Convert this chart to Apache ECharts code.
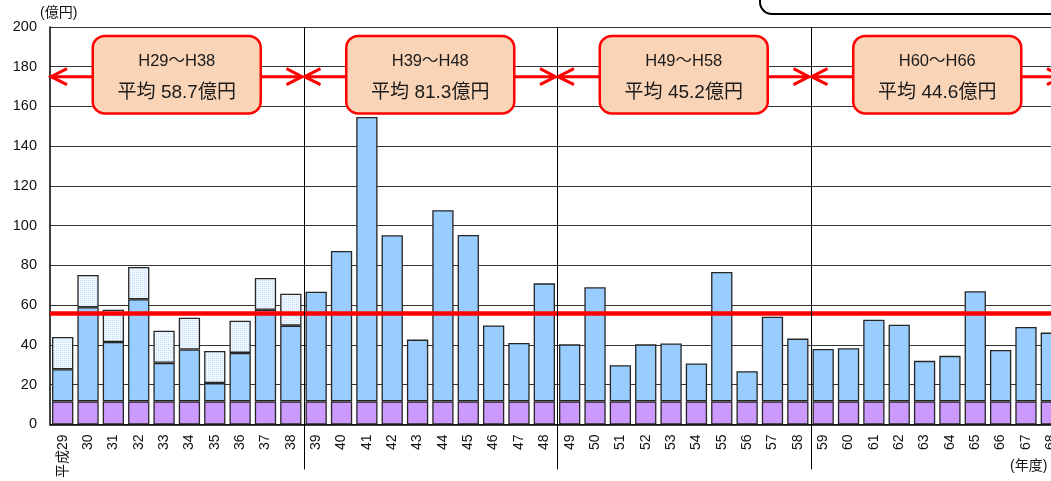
<!DOCTYPE html>
<html>
<head>
<meta charset="utf-8">
<script src="https://cdn.jsdelivr.net/npm/echarts@6/dist/echarts.min.js"></script>
<style>
html,body{margin:0;padding:0;background:#fff;overflow:hidden;width:1051px;height:481px;}
#chart{width:1064px;height:481px;}
</style>
</head>
<body>
<div id="chart"></div>
<script>
// ---- data ----
const categories = ['平成29','30','31','32','33','34','35','36','37','38',
  '39','40','41','42','43','44','45','46','47','48',
  '49','50','51','52','53','54','55','56','57','58',
  '59','60','61','62','63','64','65','66','67','68'];
const baseValues = [11.6,11.6,11.6,11.6,11.6,11.6,11.6,11.6,11.6,11.6,
  11.6,11.6,11.6,11.6,11.6,11.6,11.6,11.6,11.6,11.6,
  11.6,11.6,11.6,11.6,11.6,11.6,11.6,11.6,11.6,11.6,
  11.6,11.6,11.6,11.6,11.6,11.6,11.6,11.6,11.6,11.6];
const blueTops = [27.8,59,41.5,63,31,37.7,20.8,36,57.7,49.7,
  66.8,87.3,154.7,95.2,42.7,107.8,95.3,49.8,41,71,
  40.3,69,29.8,40.3,40.7,30.7,76.7,26.8,54.2,43.2,
  38,38.3,52.7,50.2,32,34.5,67,37.5,49,46.2];
const hatchedValues = [16.2,16.2,16.2,16.2,16.2,16,16.2,16.2,16,16.1,
  null,null,null,null,null,null,null,null,null,null,
  null,null,null,null,null,null,null,null,null,null,
  null,null,null,null,null,null,null,null,null,null];
const periodLabels = ['H29～H38','H39～H48','H49～H58','H60～H66'];
const periodAverages = ['58.7','81.3','45.2','44.6'];
const periodStart = ['平成29','39','49','59'];
const periodEnd = ['38','48','58','68'];
const overallAverage = 56;
const yTicks = {min:0, max:200, interval:20};

// ---- build ----
const blueValues = blueTops.map((v,i)=> +(v - baseValues[i]).toFixed(2));
const pat = document.createElement('canvas');
pat.width = 4; pat.height = 4;
const pc = pat.getContext('2d');
pc.fillStyle = '#F0F7FF'; pc.fillRect(0,0,4,4);
pc.fillStyle = '#B4D8FB';
pc.fillRect(0,0,1,1); pc.fillRect(2,2,1,1);
pc.fillStyle = '#D2E8FD';
pc.fillRect(2,0,1,1); pc.fillRect(0,2,1,1);

const FONT = "'Liberation Sans', Arial, 'Noto Sans CJK JP', sans-serif";
const border = {borderColor:'#262626', borderWidth:1.3};

const periodData = periodLabels.map((l,k)=>[categories.indexOf(periodStart[k]), categories.indexOf(periodEnd[k]), k]);

function renderPeriod(params, api){
  const s = api.value(0), e = api.value(1), k = api.value(2);
  const bw = api.size([1,0])[0];
  const pS = api.coord([s,175]), pE = api.coord([e,175]);
  const x0 = pS[0]-bw/2, x1 = pE[0]+bw/2, y = pS[1];
  const top = api.coord([s,195.5])[1], bot = api.coord([s,156.5])[1];
  const zeroY = api.coord([s,0])[1], maxY = api.coord([s,200])[1];
  const cx = (x0+x1)/2, boxW = 168;
  const red = '#FF0000';
  const ch = [];
  if (k < periodLabels.length-1) {
    ch.push({type:'line', shape:{x1:Math.round(x1)+0.5,y1:maxY,x2:Math.round(x1)+0.5,y2:zeroY+45}, style:{stroke:'#000',lineWidth:1}});
  }
  ch.push({type:'line', shape:{x1:x0+1,y1:y,x2:x1-1,y2:y}, style:{stroke:red,lineWidth:3}});
  ch.push({type:'polyline', shape:{points:[[x0+17,y-8],[x0+1,y],[x0+17,y+8]]}, style:{stroke:red,lineWidth:3,fill:null}});
  ch.push({type:'polyline', shape:{points:[[x1-17,y-8],[x1-1.5,y],[x1-17,y+8]]}, style:{stroke:red,lineWidth:3,fill:null}});
  ch.push({type:'rect', shape:{x:cx-boxW/2,y:top,width:boxW,height:bot-top,r:12}, style:{fill:'#FAD4B6',stroke:red,lineWidth:2.5}});
  ch.push({type:'text', style:{text:periodLabels[k], x:cx, y:top+26, align:'center', verticalAlign:'middle', fontSize:16.5, fontFamily:FONT, fill:'#1a1a1a'}});
  ch.push({type:'text', style:{text:'平均 '+periodAverages[k]+'億円', x:cx, y:top+57, align:'center', verticalAlign:'middle', fontSize:19, fontFamily:FONT, fill:'#1a1a1a'}});
  return {type:'group', children:ch};
}

const chart = echarts.init(document.getElementById('chart'));
chart.setOption({
  animation:false,
  textStyle:{fontFamily:FONT},
  grid:{left:50, right:0, top:27, bottom:55},
  xAxis:{
    type:'category', data:categories,
    axisLine:{show:true, lineStyle:{color:'#000', width:1.5}},
    axisTick:{show:false},
    axisLabel:{rotate:90, fontSize:14, color:'#111', margin:10, interval:0}
  },
  yAxis:{
    type:'value', min:yTicks.min, max:yTicks.max, interval:yTicks.interval,
    name:'(億円)', nameLocation:'end', nameGap:5,
    nameTextStyle:{fontSize:14, color:'#111', align:'left', padding:[0,0,0,-10]},
    axisLine:{show:true, lineStyle:{color:'#000', width:1.5}},
    axisTick:{show:false},
    axisLabel:{fontSize:14.5, color:'#111', margin:13},
    splitLine:{show:true, lineStyle:{color:'#333', width:1}}
  },
  series:[
    {type:'bar', stack:'t', data:baseValues, barCategoryGap:'16%',
      itemStyle:Object.assign({color:'#CC99FF'}, border)},
    {type:'bar', stack:'t', data:blueValues,
      itemStyle:Object.assign({color:'#99CCFF'}, border)},
    {type:'bar', stack:'t', data:hatchedValues,
      itemStyle:Object.assign({color:{image:pat, repeat:'repeat'}}, border),
      markLine:{silent:true, symbol:'none', label:{show:false},
        lineStyle:{color:'#FF0000', width:4.5, type:'solid'},
        data:[{yAxis:overallAverage}]}},
    {type:'custom', data:periodData, renderItem:renderPeriod, clip:false, z:10, silent:true,
      encode:{x:0, y:2}}
  ],
  graphic:[
    {type:'rect', shape:{x:760, y:-40, width:330, height:54, r:12}, style:{fill:'#fff', stroke:'#000', lineWidth:2}},
    {type:'text', left:1010, top:459, style:{text:'(年度)', fontSize:14, fill:'#111', fontFamily:FONT}}
  ]
});
</script>
</body>
</html>
